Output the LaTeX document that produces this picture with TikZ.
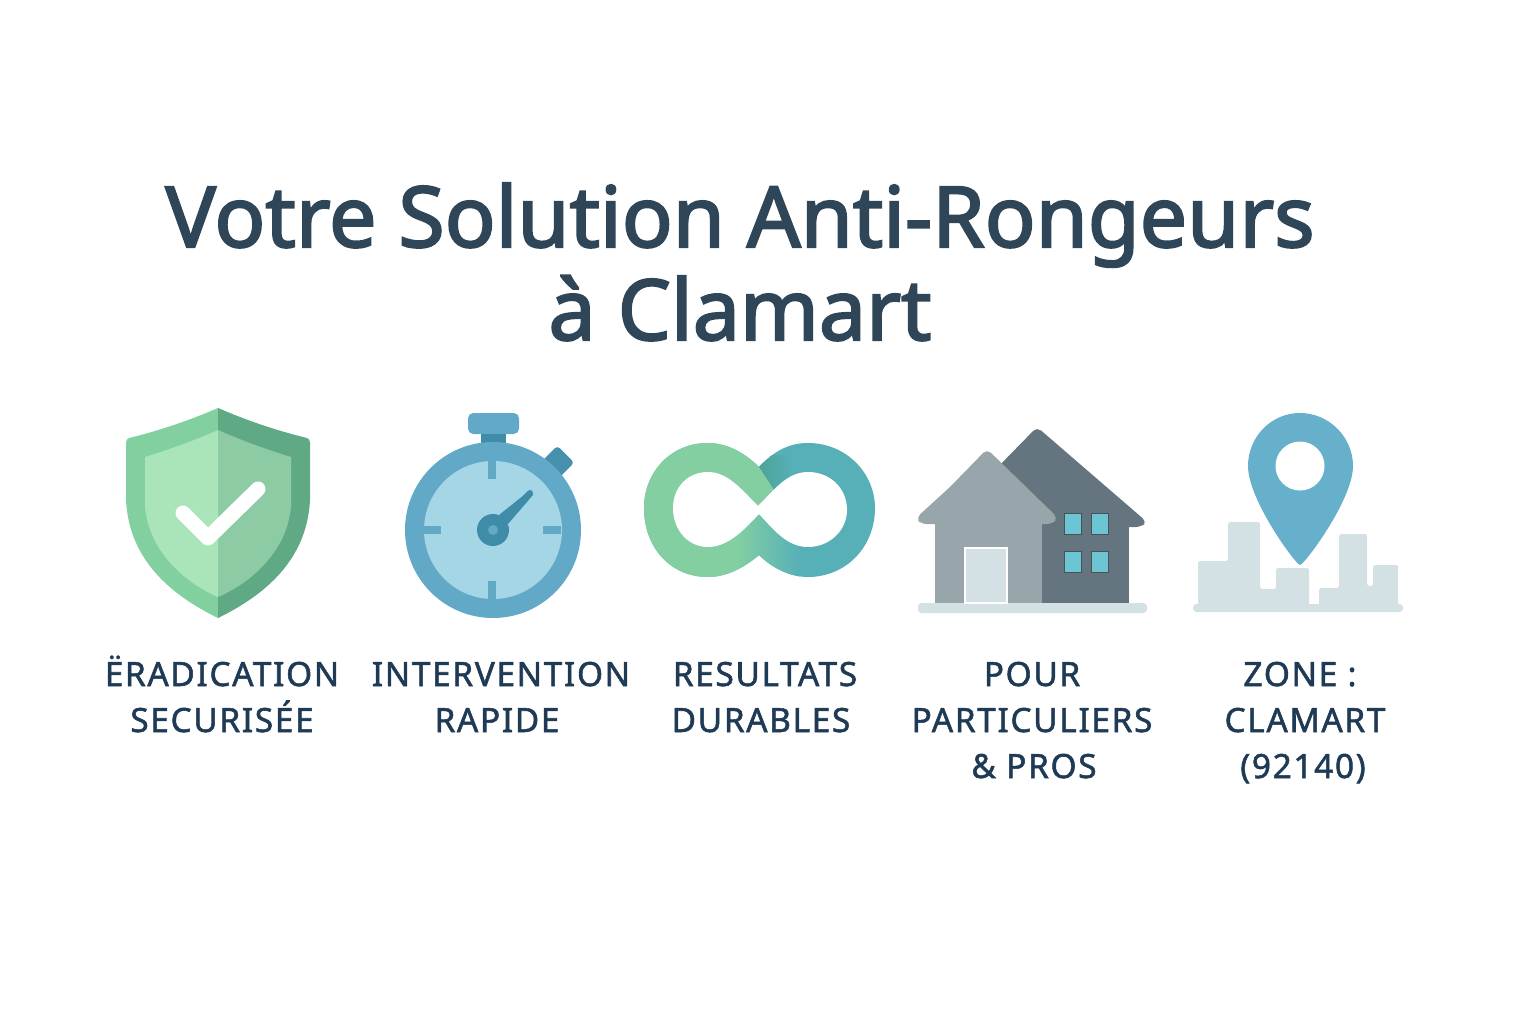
\documentclass[tikz,border=0pt]{standalone}
\usepackage{fontspec}
\usepackage{tikz}
\setmainfont{Noto Sans}
\newfontfamily\titlefont[FakeBold=2.4]{Noto Sans}
\newfontfamily\labelfont[FakeBold=1.6,LetterSpace=5]{Noto Sans}
\definecolor{inkTitle}{HTML}{2F4558}
\definecolor{inkLabel}{HTML}{1F3A55}
\definecolor{shieldLo}{HTML}{82CFA0}
\definecolor{shieldLi}{HTML}{A9E5B8}
\definecolor{shieldRo}{HTML}{5FA985}
\definecolor{shieldRi}{HTML}{8CCBA3}
\definecolor{watchRing}{HTML}{62A9C7}
\definecolor{watchDial}{HTML}{A4D6E6}
\definecolor{watchDark}{HTML}{3F8CA8}
\definecolor{loopGreen}{HTML}{84CFA2}
\definecolor{loopTeal}{HTML}{57B0B8}
\definecolor{loopShade}{HTML}{4BA398}
\definecolor{roofDark}{HTML}{65757F}
\definecolor{roofGrey}{HTML}{98A5AB}
\definecolor{paleBlue}{HTML}{D3E1E5}
\definecolor{windowBlue}{HTML}{6CC5D2}
\definecolor{pinBlue}{HTML}{67B0CC}
\tikzset{
  titleline/.style={anchor=base,inner sep=0pt,text=inkTitle,font=\titlefont\fontsize{48}{48}\selectfont},
  labelline/.style={anchor=base,inner sep=0pt,text=inkLabel,font=\labelfont\fontsize{19}{19}\selectfont},
  pane/.style={fill=windowBlue,draw=roofDark!70!black,line width=.02cm},
}
\begin{document}
\begin{tikzpicture}[x=.02cm,y=-.02cm]
\useasboundingbox (0,0) rectangle (1536,1024);
% title
\node[titleline] (titleA) at (740,247) {Votre Solution Anti-Rongeurs};
\node[titleline] (titleB) at (740,340) {à Clamart};
% shield
\foreach \s/\co/\ci in {1/shieldLo/shieldLi,-1/shieldRo/shieldRi}
{
  \begin{scope}[shift={(218,0)},xscale=\s]
    \fill[\co] (0,408) .. controls (-30,421) and (-60,431) .. (-89,438) .. controls (-91,439) and (-92,440) .. (-92,443) -- (-92,500) .. controls (-89,560) and (-47,595) .. (0,618) -- cycle;
    \fill[\ci] (0,430) .. controls (-25,441) and (-50,450) .. (-73,457) -- (-73,507) .. controls (-69,550) and (-35,582) .. (0,597) -- cycle;
  \end{scope}
}
\draw[white,line width=.3cm,line cap=round,line join=round] (183,513) -- (208,538) -- (258,489);
% stopwatch
\fill[watchRing,rounded corners=3pt] (468,413) rectangle (519,434);
\fill[watchDark] (481,434) rectangle (506,446);
\fill[watchDark!85!watchRing,rounded corners=2pt,shift={(558,462)},rotate=-45] (-12,-11) rectangle (12,11);
\fill[watchRing] (493,530) circle (88);
\fill[watchDial] (493,530) circle (69);
\foreach \a in {0,90,180,270}
  \fill[watchRing,shift={(492,530)},rotate=\a] (-4,-69) rectangle (4,-51);
\fill[watchDark] (499,515) -- (508,524) -- (533,495) -- (529,491) -- cycle;
\draw[watchDark,line width=.12cm,line cap=round] (505,518) -- (530,493);
\fill[watchDark] (493,530) circle (16);
\fill[watchRing] (493,530) circle (5);
% infinity loop
\begin{scope}
  \clip (759,467) .. controls (775,450) and (790,443) .. (808,443) .. controls (846,443) and (875,473) .. (875,508) .. controls (875,547) and (846,577) .. (808,577) .. controls (790,577) and (772,568) .. (759,555) .. controls (744,568) and (726,577) .. (708,577) .. controls (670,577) and (644,547) .. (644,508) .. controls (644,473) and (670,443) .. (708,443) .. controls (726,443) and (744,452) .. cycle;
  \fill[loopTeal] (630,430) rectangle (880,590);
  \shade[left color=loopShade,right color=loopTeal] (759,455) rectangle (792,500);
  \fill[loopGreen] (630,430) -- (759,430) -- (759,467) -- (774,490) -- (758,506) -- (759,514) -- (735,514) -- (735,590) -- (630,590) -- cycle;
  \shade[left color=loopGreen,middle color=loopShade,right color=loopTeal] (735,514) rectangle (800,590);
\end{scope}
\fill[white] (673,508) .. controls (673,487) and (688,472) .. (708,472) .. controls (728,472) and (742,490) .. (758,506) .. controls (774,490) and (787,472) .. (808,472) .. controls (830,472) and (847,488) .. (847,510) .. controls (847,530) and (830,547) .. (808,547) .. controls (787,547) and (774,530) .. (759,514) .. controls (744,530) and (728,547) .. (708,547) .. controls (688,547) and (673,530) .. cycle;
% houses
\fill[roofDark,rounded corners=3pt] (995,470) -- (1037,427) -- (1147,522) -- (1141,527) -- (1020,527) -- cycle;
\fill[roofDark] (1020,520) rectangle (1129,603);
\fill[roofGrey,rounded corners=3pt] (950,487) -- (987,449) -- (1058,518) -- (1052,524) -- (921,524) -- (916,518) -- cycle;
\fill[roofGrey] (935,520) rectangle (1042,603);
\fill[paleBlue,rounded corners=2pt] (918,603) rectangle (1147,613);
\fill[paleBlue,draw=white,line width=.03cm] (965,548) rectangle (1007,603);
\foreach \x/\y in {1064/513,1091/513,1064/551,1091/551}
  \fill[pane] (\x,\y) rectangle +(17,21);
% pin above the city
\fill[paleBlue,rounded corners=2pt] (1193,604) rectangle (1403,612);
\fill[paleBlue,rounded corners=1pt] (1198,608) -- (1198,561) -- (1228,561) -- (1228,522) -- (1260,522) -- (1260,589) -- (1276,589) -- (1276,568) -- (1309,568) -- (1309,608) -- cycle;
\fill[paleBlue,rounded corners=1pt] (1319,608) -- (1319,588) -- (1339,588) -- (1339,534) -- (1367,534) -- (1367,586) -- (1373,586) -- (1373,565) -- (1398,565) -- (1398,608) -- cycle;
\fill[pinBlue] (1300,565) .. controls (1296,565) and (1248,500) .. (1248,466) .. controls (1248,437) and (1271,413) .. (1300,413) .. controls (1329,413) and (1353,437) .. (1353,466) .. controls (1353,500) and (1304,565) .. (1300,565) -- cycle;
\fill[white] (1300,466) circle (24.5);
% labels
\foreach \n/\x/\y/\txt in {a/222/686/ËRADICATION,b/222/732/SECURISÉE,c/501/686/INTERVENTION,d/497/732/RAPIDE,e/765/686/RESULTATS,f/761/732/DURABLES,g/1032/686/POUR,h/1032/732/PARTICULIERS,i/1034/778/\& PROS,j/1300/686/ZONE :,k/1305/732/CLAMART,l/1303/778/(92140)}
  \node[labelline] (lab\n) at (\x,\y) {\txt};
\end{tikzpicture}
\end{document}
